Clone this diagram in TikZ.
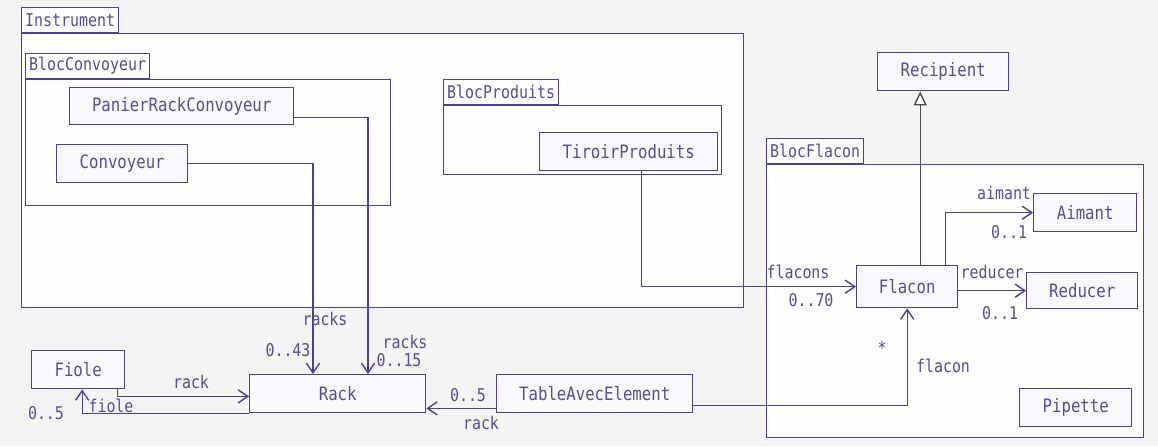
\documentclass[tikz,border=0pt]{standalone}
\usepackage{fontspec}
\usetikzlibrary{arrows.meta,calc}

\newfontfamily\umlfont[FakeStretch=0.85]{DejaVu Sans Mono}
\definecolor{umlline}{RGB}{78,64,148}
\definecolor{umltext}{RGB}{88,78,150}
\definecolor{clsfill}{RGB}{248,248,253}
\definecolor{pkgfill}{RGB}{253,253,253}
\definecolor{bgfill}{RGB}{244,244,244}
\def\px{0.02cm}

\begin{document}
\begin{tikzpicture}[x=\px, y=-\px, line width=0.8pt,
    pkg/.style 2 args={draw=umlline, fill=pkgfill, anchor=north west,
      minimum width=#1*\px, minimum height=#2*\px, inner sep=0},
    pkgtab/.style={draw=umlline, fill=pkgfill, anchor=south west,
      minimum height=25*\px, inner xsep=2pt, inner ysep=0, text=umltext,
      font={\umlfont\fontsize{10}{12}\selectfont}},
    cls/.style 2 args={draw=umlline, fill=clsfill, anchor=north west,
      minimum width=#1*\px, minimum height=#2*\px, inner sep=0, text=umltext,
      font={\umlfont\fontsize{10.5}{12}\selectfont}},
    lbl/.style={inner sep=0, text=umltext,
      font={\umlfont\fontsize{10}{12}\selectfont}},
    assoc/.style={draw=umlline, -{Straight Barb[length=5.5pt,width=7.5pt]}},
    gen/.style={draw=black!70, -{Triangle[open,length=8pt,width=7.5pt,fill=white]}}]
  \useasboundingbox (0,0) rectangle (1158,446);
  \fill[bgfill] (0,0) rectangle (1158,446);

  % packages
  \node[pkg={722}{274}] (instrument) at (21,33) {};
  \node[pkgtab] (instrumentTab) at (instrument.north west) {Instrument};
  \node[pkg={365}{126}] (blocConv) at (25,79) {};
  \node[pkgtab] (blocConvTab) at (blocConv.north west) {BlocConvoyeur};
  \node[pkg={278}{69}] (blocProd) at (443,105) {};
  \node[pkgtab] (blocProdTab) at (blocProd.north west) {BlocProduits};
  \node[pkg={377}{273}] (blocFlacon) at (766,164) {};
  \node[pkgtab] (blocFlaconTab) at (blocFlacon.north west) {BlocFlacon};

  % classes
  \node[cls={224}{37}] (panier) at (69,87) {PanierRackConvoyeur};
  \node[cls={131}{38}] (conv) at (56,144) {Convoyeur};
  \node[cls={178}{38}] (tiroir) at (539,132) {TiroirProduits};
  \node[cls={131}{38}] (recipient) at (877,52) {Recipient};
  \node[cls={101}{42}] (flacon) at (856,265) {Flacon};
  \node[cls={103}{38}] (aimant) at (1033,193) {Aimant};
  \node[cls={111}{36}] (reducer) at (1026,272) {Reducer};
  \node[cls={112}{38}] (pipette) at (1019,388) {Pipette};
  \node[cls={176}{38}] (rack) at (249,374) {Rack};
  \node[cls={196}{38}] (table) at (496,374) {TableAvecElement};
  \node[cls={93}{38}] (fiole) at (31,350) {Fiole};

  % associations
  \draw[assoc] ($(panier.south east)+(0,-8)$) -| ($(rack.north west)+(119,0)$);
  \draw[assoc] (conv.east) -| ($(rack.north west)+(64,0)$);
  \draw[assoc] ($(tiroir.south)+(13,0)$) |- (flacon.west);
  \draw[assoc] ($(flacon.north east)+(-13,0)$) |- (aimant.west);
  \draw[assoc] (flacon.east |- reducer.west) -- (reducer.west);
  \draw[assoc] ($(table.south east)+(0,-8)$) -| (flacon.south);
  \draw[assoc] ($(table.south west)+(0,-5)$) -- ($(rack.south east)+(0,-5)$);
  \draw[assoc] ($(fiole.south east)+(-8,0)$) |- ($(rack.south west)+(0,-17)$);
  \draw[assoc] (rack.south west) -| ($(fiole.south)+(4,0)$);
  % heritage
  \draw[gen] ($(flacon.north)+(13,0)$) coordinate (g) -- (g |- recipient.south);

  % roles and multiplicities
  \node[lbl] (convRole) at (325,319) {racks};
  \node[lbl] (convMult) at (288,350) {0..43};
  \node[lbl] (panierRole) at (405,342) {racks};
  \node[lbl] (panierMult) at (399,360) {0..15};
  \node[lbl] (fioleRackRole) at (191,382) {rack};
  \node[lbl] (rackFioleRole) at (111,406) {fiole};
  \node[lbl] (rackFioleMult) at (46,413) {0..5};
  \node[lbl] (tableRackMult) at (468,395) {0..5};
  \node[lbl] (tableRackRole) at (481,423) {rack};
  \node[lbl] (tiroirRole) at (798,272) {flacons};
  \node[lbl] (tiroirMult) at (811,300) {0..70};
  \node[lbl] (reducerRole) at (992,272) {reducer};
  \node[lbl] (reducerMult) at (1000,313) {0..1};
  \node[lbl] (aimantRole) at (1004,193) {aimant};
  \node[lbl] (aimantMult) at (1009,232) {0..1};
  \node[lbl] (tableFlaconMult) at (882,348) {*};
  \node[lbl] (tableFlaconRole) at (943,366) {flacon};
\end{tikzpicture}
\end{document}
